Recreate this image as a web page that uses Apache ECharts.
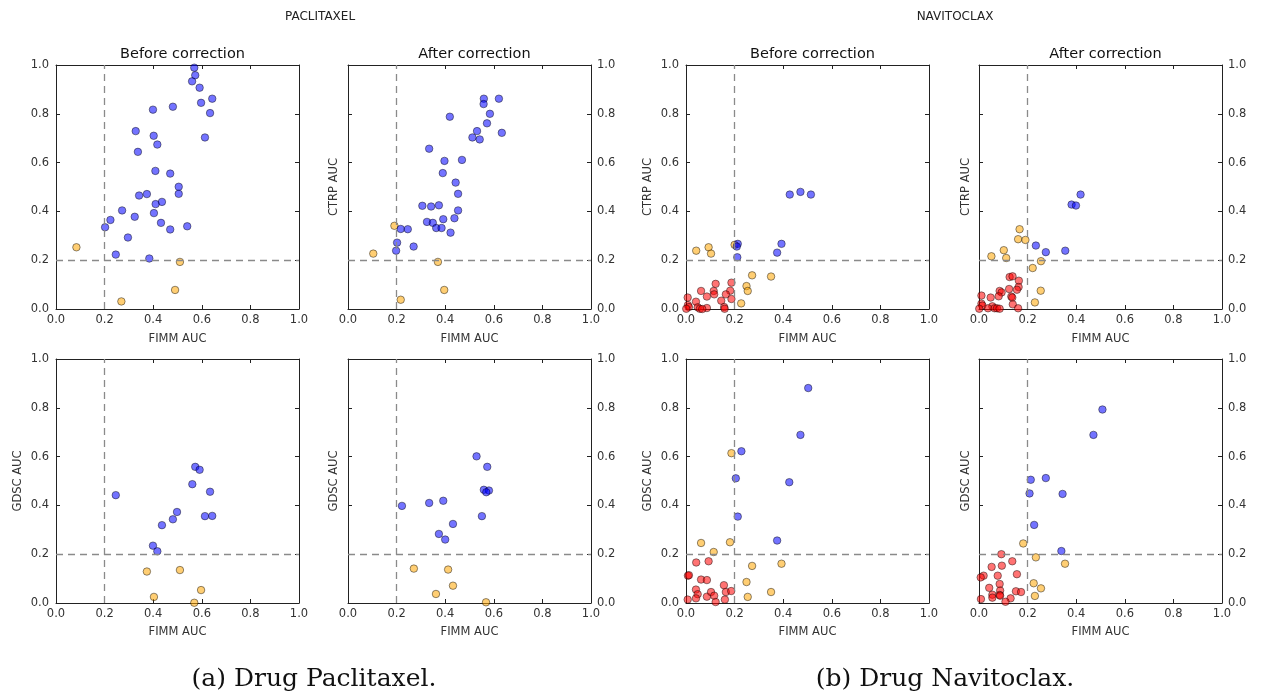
<!DOCTYPE html>
<html>
<head>
<meta charset="utf-8">
<script src="https://cdn.jsdelivr.net/npm/echarts@6/dist/echarts.min.js"></script>
<style>
html,body{margin:0;padding:0;background:#fff;}
#c{width:1264px;height:698px;}
</style>
</head>
<body>
<div id="c"></div>
<script>
// ---------- data ----------
const axisTicks = [0, 0.2, 0.4, 0.6, 0.8, 1.0];
const threshold = 0.2;
const panelTitles = ['Before correction', 'After correction', 'Before correction', 'After correction'];
const drugNames = ['PACLITAXEL', 'NAVITOCLAX'];
const captions = ['(a) Drug Paclitaxel.', '(b) Drug Navitoclax.'];
const xName = 'FIMM AUC';
const yNames = ['CTRP AUC', 'GDSC AUC'];

// Paclitaxel, CTRP, before
const pacCtrpBeforeBlue = [[0.569,0.989],[0.573,0.958],[0.560,0.933],[0.591,0.907],[0.597,0.845],[0.643,0.862],[0.634,0.803],[0.399,0.817],[0.481,0.829],[0.328,0.729],[0.402,0.710],[0.417,0.674],[0.613,0.703],[0.337,0.644],[0.409,0.566],[0.470,0.555],[0.505,0.501],[0.505,0.472],[0.342,0.465],[0.374,0.471],[0.410,0.430],[0.436,0.439],[0.272,0.404],[0.224,0.365],[0.324,0.378],[0.403,0.393],[0.432,0.353],[0.470,0.326],[0.540,0.339],[0.202,0.335],[0.296,0.293],[0.246,0.223],[0.384,0.207]];
const pacCtrpBeforeOrange = [[0.084,0.253],[0.510,0.193],[0.490,0.078],[0.269,0.031]];
// Paclitaxel, CTRP, after
const pacCtrpAfterBlue = [[0.559,0.862],[0.621,0.862],[0.558,0.840],[0.584,0.800],[0.419,0.788],[0.572,0.761],[0.531,0.729],[0.633,0.722],[0.512,0.703],[0.542,0.695],[0.334,0.657],[0.397,0.607],[0.469,0.611],[0.390,0.557],[0.443,0.518],[0.453,0.472],[0.306,0.423],[0.342,0.420],[0.374,0.425],[0.453,0.404],[0.392,0.368],[0.438,0.372],[0.325,0.357],[0.349,0.353],[0.363,0.332],[0.385,0.332],[0.422,0.313],[0.217,0.328],[0.246,0.327],[0.202,0.272],[0.198,0.239],[0.270,0.256]];
const pacCtrpAfterOrange = [[0.191,0.341],[0.104,0.227],[0.370,0.193],[0.396,0.078],[0.217,0.038]];
// Navitoclax, CTRP, before
const navCtrpBeforeBlue = [[0.427,0.469],[0.471,0.480],[0.514,0.469],[0.393,0.267],[0.375,0.231],[0.213,0.267],[0.209,0.256],[0.211,0.212]];
const navCtrpBeforeOrange = [[0.042,0.239],[0.093,0.253],[0.103,0.227],[0.200,0.263],[0.272,0.138],[0.350,0.133],[0.249,0.094],[0.254,0.074],[0.227,0.023]];
const navCtrpBeforeRed = [[0.122,0.103],[0.187,0.108],[0.062,0.074],[0.114,0.074],[0.116,0.060],[0.086,0.051],[0.182,0.075],[0.164,0.060],[0.187,0.041],[0.145,0.034],[0.041,0.030],[0.007,0.047],[0.008,0.016],[0.012,0.008],[0.048,0.007],[0.057,0.001],[0.086,0.004],[0.157,0.008],[0.159,0.001],[0.001,0.001],[0.067,0.000]];
// Navitoclax, CTRP, after
const navCtrpAfterBlue = [[0.418,0.469],[0.381,0.428],[0.399,0.424],[0.234,0.260],[0.275,0.233],[0.355,0.239]];
const navCtrpAfterOrange = [[0.167,0.327],[0.161,0.286],[0.191,0.283],[0.102,0.241],[0.051,0.216],[0.112,0.209],[0.255,0.196],[0.221,0.168],[0.254,0.075],[0.230,0.027]];
const navCtrpAfterRed = [[0.126,0.131],[0.138,0.134],[0.164,0.116],[0.124,0.082],[0.163,0.090],[0.156,0.079],[0.085,0.074],[0.093,0.068],[0.081,0.052],[0.048,0.047],[0.133,0.051],[0.137,0.047],[0.139,0.019],[0.010,0.055],[0.010,0.022],[0.014,0.014],[0.055,0.011],[0.037,0.003],[0.064,0.003],[0.074,0.003],[0.085,0.001],[0.161,0.003],[0.001,0.001]];
// Paclitaxel, GDSC, before
const pacGdscBeforeBlue = [[0.573,0.558],[0.591,0.546],[0.561,0.487],[0.634,0.456],[0.246,0.442],[0.498,0.373],[0.481,0.343],[0.613,0.356],[0.643,0.357],[0.436,0.319],[0.399,0.235],[0.417,0.212]];
const pacGdscBeforeOrange = [[0.374,0.129],[0.510,0.135],[0.597,0.053],[0.403,0.025],[0.569,0.001]];
// Paclitaxel, GDSC, after
const pacGdscAfterBlue = [[0.529,0.601],[0.573,0.558],[0.559,0.464],[0.580,0.461],[0.569,0.454],[0.222,0.398],[0.334,0.410],[0.392,0.419],[0.551,0.356],[0.432,0.324],[0.374,0.283],[0.400,0.260]];
const pacGdscAfterOrange = [[0.271,0.141],[0.412,0.137],[0.432,0.071],[0.362,0.037],[0.568,0.003]];
// Navitoclax, GDSC, before
const navGdscBeforeBlue = [[0.503,0.881],[0.471,0.689],[0.228,0.622],[0.205,0.511],[0.425,0.495],[0.213,0.354],[0.375,0.256]];
const navGdscBeforeOrange = [[0.187,0.614],[0.062,0.246],[0.181,0.249],[0.114,0.209],[0.272,0.152],[0.393,0.161],[0.249,0.086],[0.254,0.025],[0.350,0.045]];
const navGdscBeforeRed = [[0.042,0.166],[0.093,0.171],[0.008,0.112],[0.012,0.114],[0.062,0.096],[0.086,0.094],[0.041,0.055],[0.048,0.036],[0.041,0.019],[0.086,0.026],[0.103,0.045],[0.116,0.030],[0.122,0.004],[0.156,0.073],[0.164,0.045],[0.186,0.049],[0.160,0.014],[0.007,0.014]];
// Navitoclax, GDSC, after
const navGdscAfterBlue = [[0.508,0.793],[0.471,0.689],[0.213,0.505],[0.275,0.512],[0.208,0.449],[0.344,0.447],[0.227,0.320],[0.339,0.213]];
const navGdscAfterOrange = [[0.182,0.244],[0.234,0.187],[0.354,0.161],[0.225,0.081],[0.255,0.060],[0.230,0.029]];
const navGdscAfterRed = [[0.092,0.200],[0.137,0.171],[0.052,0.148],[0.094,0.153],[0.019,0.112],[0.007,0.105],[0.077,0.112],[0.156,0.118],[0.085,0.078],[0.042,0.062],[0.087,0.051],[0.152,0.048],[0.173,0.045],[0.055,0.034],[0.085,0.033],[0.087,0.030],[0.055,0.022],[0.008,0.016],[0.130,0.019],[0.109,0.005]];

// ---------- layout ----------
const colLefts = [56, 348, 686, 979];
const rowTops = [65, 359];
const gw = 243, gh = 244;
const yNameGaps = [32, 8, 32, 7];
const xNameGaps = [24, 23];
const panelData = [
  [pacCtrpBeforeBlue, pacCtrpBeforeOrange, []],
  [pacCtrpAfterBlue, pacCtrpAfterOrange, []],
  [navCtrpBeforeBlue, navCtrpBeforeOrange, navCtrpBeforeRed],
  [navCtrpAfterBlue, navCtrpAfterOrange, navCtrpAfterRed],
  [pacGdscBeforeBlue, pacGdscBeforeOrange, []],
  [pacGdscAfterBlue, pacGdscAfterOrange, []],
  [navGdscBeforeBlue, navGdscBeforeOrange, navGdscBeforeRed],
  [navGdscAfterBlue, navGdscAfterOrange, navGdscAfterRed]
];
const colors = { blue: '#0000ff', orange: '#ffa500', red: '#ff0000' };

const lineCol = '#222';
const tickFont = { fontFamily: 'DejaVu Sans', fontSize: 11.5, color: '#333' };
const fmt = v => v.toFixed(1);

const grids = [], xAxes = [], yAxes = [], series = [];
const titles = [];

for (let p = 0; p < 8; p++) {
  const row = Math.floor(p / 4), col = p % 4;
  const labelsRight = (col === 1 || col === 3);
  grids.push({ left: colLefts[col], top: rowTops[row], width: gw, height: gh });
  const baseAxis = {
    gridIndex: p, type: 'value', min: 0, max: 1, interval: 0.2,
    splitLine: { show: false },
    axisLine: { show: true, onZero: false, lineStyle: { color: lineCol, width: 1 } },
    axisTick: { show: true, inside: true, length: 4, lineStyle: { color: lineCol } }
  };
  // bottom x
  xAxes.push(Object.assign({}, baseAxis, {
    position: 'bottom',
    name: xName, nameLocation: 'middle', nameGap: xNameGaps[row],
    nameTextStyle: { fontFamily: 'DejaVu Sans', fontSize: 11.5, color: '#333' },
    axisLabel: Object.assign({ formatter: fmt, margin: 5 }, tickFont)
  }));
  // top x
  xAxes.push(Object.assign({}, baseAxis, { position: 'top', axisLabel: { show: false } }));
  // left y
  const showYName = !(p === 0);
  yAxes.push(Object.assign({}, baseAxis, {
    position: 'left',
    name: showYName ? yNames[row] : '', nameLocation: 'middle', nameGap: yNameGaps[col],
    nameTextStyle: { fontFamily: 'DejaVu Sans', fontSize: 11.5, color: '#333' },
    axisLabel: labelsRight ? { show: false } : Object.assign({ formatter: fmt, margin: 7 }, tickFont)
  }));
  // right y
  yAxes.push(Object.assign({}, baseAxis, {
    position: 'right',
    axisLabel: labelsRight ? Object.assign({ formatter: fmt, margin: 6 }, tickFont) : { show: false }
  }));

  const [blue, orange, red] = panelData[p];
  // threshold dashed lines
  series.push({
    type: 'scatter', xAxisIndex: 2 * p, yAxisIndex: 2 * p, data: [], silent: true,
    markLine: {
      silent: true, symbol: 'none', animation: false, label: { show: false },
      lineStyle: { color: '#8a8a8a', type: [7, 5], width: 1.3 },
      data: [{ xAxis: threshold }, { yAxis: threshold }]
    }
  });
  const groups = [[red, colors.red], [orange, colors.orange], [blue, colors.blue]];
  groups.forEach(([d, c]) => {
    if (!d.length) return;
    series.push({
      type: 'scatter', xAxisIndex: 2 * p, yAxisIndex: 2 * p, data: d,
      symbolSize: 7.5, animation: false, clip: false,
      itemStyle: { color: c, opacity: 0.55, borderColor: '#000', borderWidth: 0.8 }
    });
  });
  if (row === 0) {
    titles.push({
      text: panelTitles[col], left: colLefts[col] + gw / 2, top: 42, textAlign: 'center',
      textStyle: { fontFamily: 'DejaVu Sans', fontSize: 14.5, fontWeight: 'normal', color: '#111' }
    });
  }
}
titles.push({ text: drugNames[0], left: 315, top: 6, textAlign: 'center',
  textStyle: { fontFamily: 'DejaVu Sans', fontSize: 12, fontWeight: 'normal', color: '#222' } });
titles.push({ text: drugNames[1], left: 950, top: 6, textAlign: 'center',
  textStyle: { fontFamily: 'DejaVu Sans', fontSize: 12, fontWeight: 'normal', color: '#222' } });
titles.push({ text: captions[0], left: 309, top: 662, textAlign: 'center',
  textStyle: { fontFamily: 'DejaVu Serif', fontSize: 25, fontWeight: 'normal', color: '#111' } });
titles.push({ text: captions[1], left: 940, top: 662, textAlign: 'center',
  textStyle: { fontFamily: 'DejaVu Serif', fontSize: 25, fontWeight: 'normal', color: '#111' } });

const chart = echarts.init(document.getElementById('c'), null, { renderer: 'canvas' });
chart.setOption({
  animation: false,
  backgroundColor: '#fff',
  title: titles,
  grid: grids,
  xAxis: xAxes,
  yAxis: yAxes,
  series: series
});
</script>
</body>
</html>
